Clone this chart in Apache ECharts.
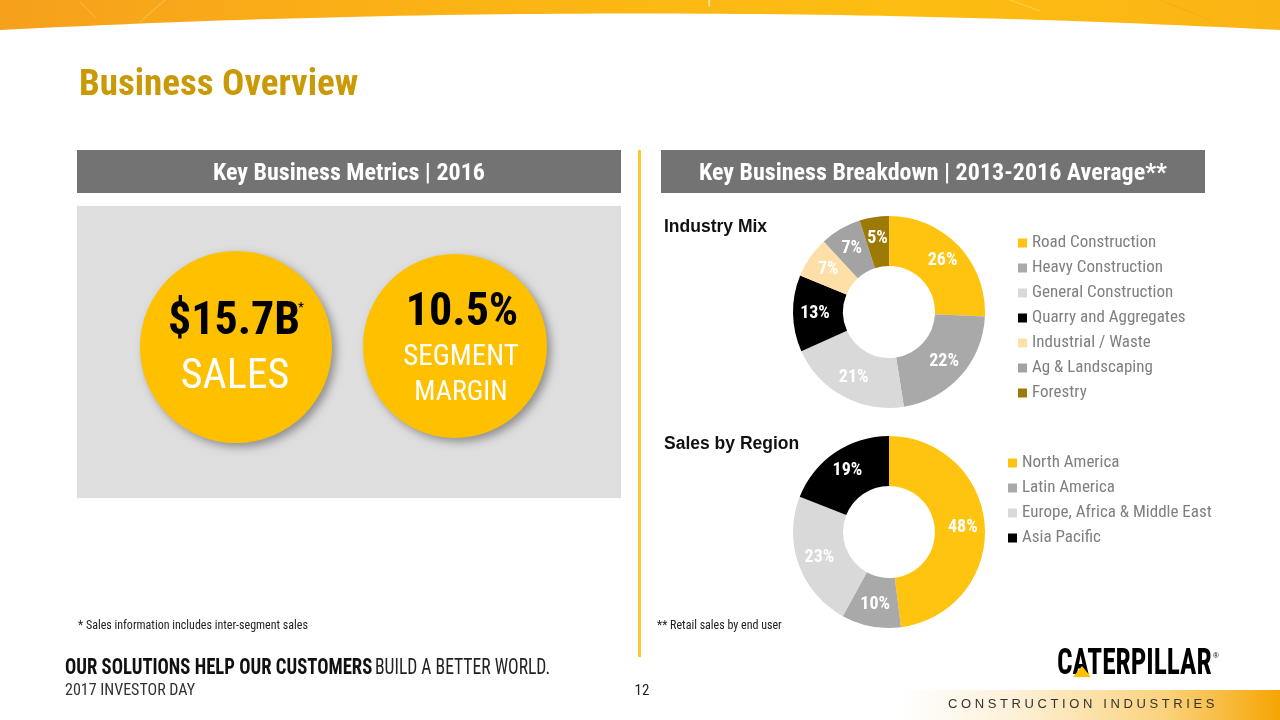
<!DOCTYPE html>
<html>
<head>
<meta charset="utf-8">
<script src="https://cdn.jsdelivr.net/npm/echarts@6/dist/echarts.min.js"></script>
<style>
html,body{margin:0;padding:0;background:#fff;}
#c{width:1280px;height:720px;}
</style>
</head>
<body>
<div id="c"></div>
<script>
// ---- data ----
const industryNames = ['Road Construction', 'Heavy Construction', 'General Construction', 'Quarry and Aggregates', 'Industrial / Waste', 'Ag & Landscaping', 'Forestry'];
const industryValues = [26, 22, 21, 13, 7, 7, 5];
const regionNames = ['North America', 'Latin America', 'Europe, Africa & Middle East', 'Asia Pacific'];
const regionValues = [48, 10, 23, 19];
const salesValue = '$15.7B';
const marginValue = '10.5%';

// ---- styles ----
const industryColors = ['#FFC40F', '#A9A9A9', '#D9D9D9', '#000000', '#FFDFA8', '#A3A3A3', '#9C7A05'];
const regionColors = ['#FFC40F', '#A9A9A9', '#D9D9D9', '#000000'];
const NARROW = "'Liberation Sans Narrow','Arial Narrow','Roboto Condensed','DejaVu Sans Condensed',sans-serif";
const WIDE = "'Liberation Sans',Arial,Helvetica,sans-serif";

function lin(stops) {
  return {type: 'linear', x: 0, y: 0, x2: 1, y2: 0, global: false,
    colorStops: stops.map(s => ({offset: s[0], color: s[1]}))};
}

// banner outline (decorative curve)
const bannerPts = [[0, 0], [1280, 0]];
for (let i = 0; i <= 64; i++) {
  const t = 1 - i / 64;
  const x = 1280 * t;
  const y = 30 * (1 - t) * (1 - t) + 2 * (1 - t) * t * (-3) + 30 * t * t;
  bannerPts.push([x, y]);
}

const chart = echarts.init(document.getElementById('c'), null, {renderer: 'canvas'});

function txt(x, y, text, font, fill, align, extra) {
  return Object.assign({
    type: 'text', silent: true,
    style: {x: x, y: y, text: text, font: font, fill: fill, textAlign: align || 'left', textVerticalAlign: 'middle'}
  }, extra || {});
}
function stxt(x, y, sx, text, font, fill) {
  return {type: 'text', silent: true, x: x, y: y, scaleX: sx,
    style: {x: 0, y: 0, text: text, font: font, fill: fill, textAlign: 'left', textVerticalAlign: 'middle'}};
}

const graphics = [
  // top banner
  {type: 'polygon', silent: true, shape: {points: bannerPts},
   style: {fill: lin([[0, '#F6A01C'], [0.35, '#FBB315'], [0.7, '#FDBD12'], [1, '#FBB414']])}},
  {type: 'line', silent: true, shape: {x1: 165, y1: 0, x2: 140, y2: 22}, style: {stroke: 'rgba(255,220,120,0.6)', lineWidth: 1}},
  {type: 'line', silent: true, shape: {x1: 80, y1: 2, x2: 96, y2: 18}, style: {stroke: 'rgba(255,210,120,0.5)', lineWidth: 1}},
  {type: 'line', silent: true, shape: {x1: 1010, y1: 0, x2: 1040, y2: 11}, style: {stroke: 'rgba(255,225,130,0.6)', lineWidth: 1}},
  {type: 'line', silent: true, shape: {x1: 1160, y1: 0, x2: 1210, y2: 20}, style: {stroke: 'rgba(240,170,30,0.8)', lineWidth: 1}},
  {type: 'arc', silent: true, shape: {cx: 720, cy: 3, r: 11, startAngle: -Math.PI * 0.9, endAngle: Math.PI * 0.9, clockwise: false},
   style: {stroke: '#FFE9B0', lineWidth: 1.5, fill: 'none'}},

  // title
  txt(79, 86, 'Business Overview', 'bold 37px ' + NARROW, '#C99A06'),

  // header bars
  {type: 'rect', silent: true, shape: {x: 77, y: 150, width: 544, height: 43}, style: {fill: '#737373'}},
  {type: 'rect', silent: true, shape: {x: 661, y: 150, width: 544, height: 43}, style: {fill: '#737373'}},
  txt(349, 174, 'Key Business Metrics | 2016', 'bold 24px ' + NARROW, '#ffffff', 'center'),
  txt(933, 174, 'Key Business Breakdown | 2013-2016 Average**', 'bold 24px ' + NARROW, '#ffffff', 'center'),

  // divider
  {type: 'rect', silent: true, shape: {x: 638, y: 150, width: 3, height: 507}, style: {fill: '#FFC72C'}},

  // left panel
  {type: 'rect', silent: true, shape: {x: 77, y: 206, width: 544, height: 292}, style: {fill: '#DEDEDE'}},
  {type: 'circle', silent: true, shape: {cx: 236, cy: 347, r: 96},
   style: {fill: '#FFC000', shadowBlur: 8, shadowOffsetX: 4, shadowOffsetY: 4, shadowColor: 'rgba(0,0,0,0.35)'}},
  {type: 'circle', silent: true, shape: {cx: 455, cy: 346, r: 92},
   style: {fill: '#FFC000', shadowBlur: 8, shadowOffsetX: 4, shadowOffsetY: 4, shadowColor: 'rgba(0,0,0,0.35)'}},
  txt(234, 322, salesValue, 'bold 46px ' + NARROW, '#000000', 'center'),
  txt(301, 308, '*', 'bold 12px ' + NARROW, '#000000', 'center'),
  txt(235, 377, 'SALES', '42px ' + NARROW, '#ffffff', 'center'),
  txt(462, 313, marginValue, 'bold 46px ' + NARROW, '#000000', 'center'),
  txt(461, 358, 'SEGMENT', '29px ' + NARROW, '#ffffff', 'center'),
  txt(461, 393, 'MARGIN', '28px ' + NARROW, '#ffffff', 'center'),

  // section titles
  txt(664, 227, 'Industry Mix', 'bold 17.5px ' + WIDE, '#111111'),
  txt(664, 444, 'Sales by Region', 'bold 17.5px ' + WIDE, '#111111'),

  // footnotes
  txt(78, 626, '* Sales information includes inter-segment sales', '12px ' + NARROW, '#222222'),
  txt(657, 626, '** Retail sales by end user', '12px ' + NARROW, '#222222'),

  // footer
  stxt(65, 668, 0.85, 'OUR SOLUTIONS HELP OUR CUSTOMERS', 'bold 22px ' + NARROW, '#111111'),
  stxt(375, 668, 0.8, 'BUILD A BETTER WORLD.', '22px ' + NARROW, '#222222'),
  txt(65, 691, '2017 INVESTOR DAY', '16px ' + NARROW, '#333333'),
  txt(642, 691, '12', '15px ' + NARROW, '#222222', 'center'),

  // bottom band
  {type: 'rect', silent: true, shape: {x: 900, y: 690, width: 380, height: 30},
   style: {fill: lin([[0, '#ffffff'], [0.3, '#fdf1d8'], [0.7, '#fbd27c'], [1, '#f5a503']])}},
  txt(948, 704, 'C O N S T R U C T I O N   I N D U S T R I E S', '13px ' + WIDE, '#333333'),

  // logo
  stxt(1057, 665, 0.76, 'CATERPILLAR', 'bold 36px ' + NARROW, '#000000'),
  {type: 'polygon', silent: true, shape: {points: [[1073, 677], [1091, 677], [1082, 666]]}, style: {fill: '#FFC000'}},
  txt(1216, 656, '®', '8px ' + WIDE, '#000000', 'center')
];

const labelStyle = {show: true, position: 'inside', formatter: '{c}%', color: '#ffffff', fontWeight: 'bold', fontSize: 18, fontFamily: NARROW};
const legendText = {color: '#7f7f7f', fontSize: 17, lineHeight: 20, fontFamily: NARROW};

const option = {
  animation: false,
  color: industryColors,
  graphic: {elements: graphics},
  legend: [
    {data: industryNames, orient: 'vertical', left: 1018, top: 233, padding: 0, itemWidth: 9, itemHeight: 9, itemGap: 5,
     icon: 'rect', selectedMode: false, textStyle: legendText},
    {data: regionNames, orient: 'vertical', left: 1008, top: 453, padding: 0, itemWidth: 9, itemHeight: 9, itemGap: 5,
     icon: 'rect', selectedMode: false, textStyle: legendText}
  ],
  series: [
    {type: 'pie', name: 'Industry Mix', center: [889, 312], radius: [46, 96], startAngle: 90, clockwise: true,
     label: labelStyle, labelLine: {show: false}, emphasis: {disabled: true},
     data: industryNames.map((n, i) => ({name: n, value: industryValues[i], itemStyle: {color: industryColors[i]}}))},
    {type: 'pie', name: 'Sales by Region', center: [889, 532], radius: [46, 96], startAngle: 90, clockwise: true,
     label: labelStyle, labelLine: {show: false}, emphasis: {disabled: true},
     data: regionNames.map((n, i) => ({name: n, value: regionValues[i], itemStyle: {color: regionColors[i]}}))}
  ]
};
chart.setOption(option);
</script>
</body>
</html>
